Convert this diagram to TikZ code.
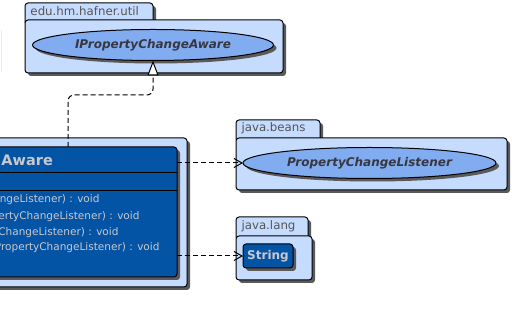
\documentclass[tikz,border=0pt]{standalone}
\usepackage{fontspec}
\setmainfont{DejaVu Sans}
\usetikzlibrary{arrows.meta,shadows,shapes.geometric}

\definecolor{pkgblue}{RGB}{198,220,255}
\definecolor{ifaceblue}{RGB}{130,172,240}
\definecolor{classblue}{RGB}{4,84,166}
\definecolor{labelgray}{RGB}{85,85,85}
\definecolor{namegray}{RGB}{55,55,65}
\definecolor{methodgray}{RGB}{200,200,205}
\definecolor{shadowgray}{RGB}{90,90,90}

\begin{document}
\begin{tikzpicture}[
		x=1pt,y=-1pt,
		line width=1pt,
		line join=round,
		shade box/.style={draw,inner sep=0pt,outer sep=0pt,
			drop shadow={shadow xshift=3pt,shadow yshift=-3pt,fill=shadowgray,opacity=1}},
		pkgpart/.style={shade box,rounded corners=3pt,fill=pkgblue,anchor=north west},
		pkglabel/.style={anchor=west,inner sep=0pt,text=labelgray,font=\fontsize{11.8}{13}\selectfont},
		iface/.style={shade box,ellipse,fill=ifaceblue,text=namegray,
			font=\fontsize{12}{14}\selectfont\bfseries\itshape},
		classbox/.style={shade box,rounded corners=3pt,fill=classblue,anchor=north west},
		method/.style={anchor=east,inner sep=0pt,text=methodgray,font=\fontsize{10.5}{12}\selectfont},
		dep/.style={draw,dash pattern=on 5pt off 3pt,-{Straight Barb[length=8pt,width=9pt]}},
		realize/.style={draw,dash pattern=on 5pt off 3pt,rounded corners=6pt,
			-{Triangle[open,length=15pt,width=11pt,fill=white]}}
		]
		\useasboundingbox (0,0) rectangle (512,328);
		\clip (0,0) rectangle (512,328);

		% edu.hm.hafner.util
		\node[pkgpart,minimum width=128,minimum height=22] (utiltab) at (25,3) {};
		\node[pkgpart,minimum width=258,minimum height=53] (utilpkg) at (25,20) {};
		\node[pkglabel] at (30,11.5) {edu.hm.hafner.util};
		\node[iface,minimum width=241,minimum height=31] (aware) at (153,45) {IPropertyChangeAware};

		% java.beans
		\node[pkgpart,minimum width=84,minimum height=22] (beanstab) at (236,120) {};
		\node[pkgpart,minimum width=271,minimum height=52] (beanspkg) at (236,138) {};
		\node[pkglabel] at (241,128.5) {java.beans};
		\node[iface,minimum width=253,minimum height=31] (listener) at (369.5,163) {PropertyChangeListener};

		% java.lang
		\node[pkgpart,minimum width=72,minimum height=23] (langtab) at (236,217) {};
		\node[pkgpart,minimum width=76,minimum height=44] (langpkg) at (236,236) {};
		\node[pkglabel] at (241,226.5) {java.lang};
		\node[classbox,minimum width=50,minimum height=24,text=methodgray,
			font=\fontsize{12}{14}\selectfont\bfseries] (string) at (243,244) {String};

		% the class itself
		\draw[gray!15] (1,30) -- (1,72);
		\node[pkgpart,minimum width=207,minimum height=149] (ownpkg) at (-20,138) {};
		\node[classbox,minimum width=197,minimum height=130] (cls) at (-20,147) {};
		\draw ([yshift=-26pt]cls.north west) -- ([yshift=-26pt]cls.north east);
		\draw ([yshift=-44pt]cls.north west) -- ([yshift=-44pt]cls.north east);
		\node[anchor=west,inner sep=0pt,text=methodgray,font=\fontsize{14.5}{16}\selectfont\bfseries] at (1,160) {Aware};
		\node[method] at (100,200) {PropertyChangeListener) : void};
		\node[method] at (140,216.5) {PropertyChangeListener) : void};
		\node[method] at (119,232.5) {PropertyChangeListener) : void};
		\node[method] at (160,248) {PropertyChangeListener) : void};

		% dependencies
		\coordinate (knee) at (68,95);
		\draw[realize] (knee |- cls.north) -- (knee) -| (aware.south);
		\draw[dep] (cls.east |- listener.west) -- (listener.west);
		\draw[dep] (cls.east |- string.west) -- (string.west);
	\end{tikzpicture}
\end{document}
